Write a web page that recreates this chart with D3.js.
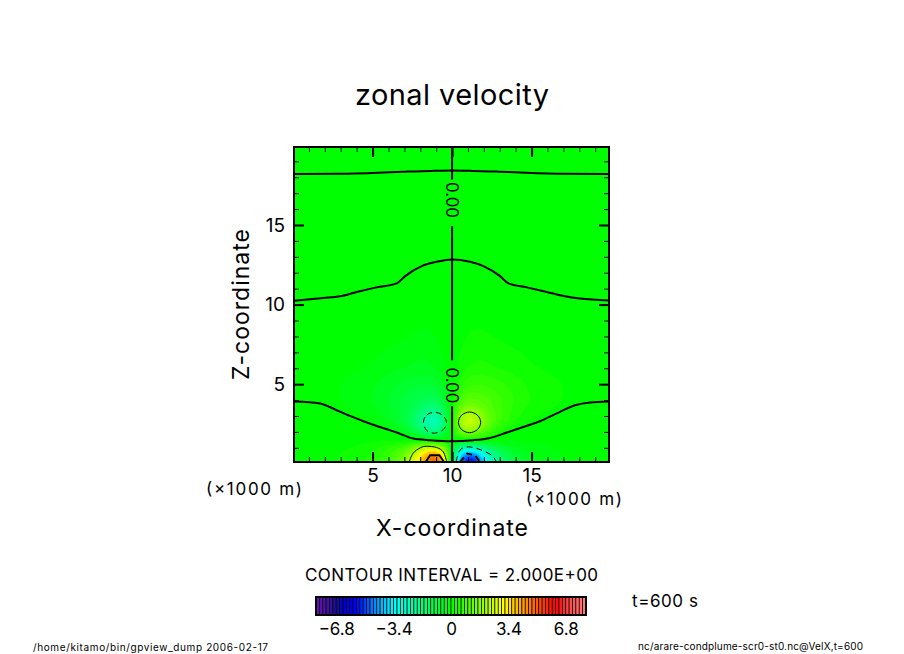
<!DOCTYPE html>
<html lang="en">

<head>
    <meta charset="UTF-8">
    <title>zonal velocity</title>
    <script src="https://d3js.org/d3.v7.min.js"></script>
    <style>
        body {
            margin: 0;
            background: #fff;
        }

        text {
            font-family: "Inter", "DejaVu Sans", sans-serif;
            font-weight: 400;
            fill: #000;
        }

        .tick text {
            font-family: "Inter", "DejaVu Sans", sans-serif;
        }

        .domain {
            display: none;
        }
    </style>
</head>

<body>
    <script>
        // grid of the field, x and z in units of 1000 m
        const gridX = [0, 3, 5, 6, 7, 7.5, 8, 8.5, 9, 9.5, 10, 10.5, 11, 11.5, 12, 12.5, 13, 14, 15, 17, 20];
        const gridZ = [0, 0.3, 0.6, 1, 1.4, 1.8, 2.2, 2.6, 3, 3.5, 4, 5, 6, 8, 12, 20];

        const uZ00 = [.05, .2, .45, .8, 1.7, 2.6, 3.7, 4.8, 5.7, 4.1, 0, -4.4, -6.1, -6, -4.2, -2.9, -2, -.9, -.45, -.2, -.05];
        const uZ03 = [.05, .2, .45, .75, 1.5, 2.3, 3.4, 4.6, 5.3, 3.7, 0, -3.9, -5.5, -5.4, -3.8, -2.6, -1.8, -.8, -.45, -.2, -.05];
        const uZ06 = [.05, .2, .4, .7, 1.2, 1.9, 2.9, 4, 4.5, 3.1, 0, -3.3, -4.4, -4.3, -3.1, -2.2, -1.4, -.65, -.4, -.2, -.05];
        const uZ10 = [.03, .15, .3, .5, .85, 1.3, 1.9, 2.2, 2.2, 1.7, 0, -1.8, -2.2, -2.1, -1.7, -1.2, -.8, -.4, -.3, -.15, -.03];
        const uZ14 = [.02, .08, .15, .2, .15, .05, -.05, 0, 0, 0, 0, 0, 0, 0, .05, -.05, -.15, -.2, -.15, -.08, -.02];
        const uZ18 = [.02, .05, .08, -.05, -.3, -.6, -.95, -1.35, -1.5, -1.1, 0, 1.1, 1.5, 1.4, .95, .6, .3, .05, -.08, -.05, -.02];
        const uZ22 = [.02, .03, -.05, -.2, -.6, -1, -1.5, -2.2, -2.4, -1.7, 0, 1.7, 2.3, 2.2, 1.5, 1, .6, .2, .05, -.03, -.02];
        const uZ26 = [.01, -.04, -.18, -.42, -.85, -1.3, -1.9, -2.5, -2.75, -1.9, 0, 1.95, 2.7, 2.5, 1.9, 1.3, .85, .42, .18, .04, -.01];
        const uZ30 = [.01, -.08, -.25, -.5, -.9, -1.2, -1.7, -2.2, -2.4, -1.7, 0, 1.7, 2.4, 2.2, 1.7, 1.2, .9, .5, .25, .08, -.01];
        const uZ35 = [0, -.15, -.35, -.55, -.85, -1.05, -1.3, -1.6, -1.7, -1.25, 0, 1.25, 1.7, 1.6, 1.3, 1.05, .85, .55, .35, .15, 0];
        const uZ40 = [-.02, -.2, -.4, -.6, -.85, -1, -1.1, -1.2, -1.2, -.85, 0, .85, 1.2, 1.2, 1.1, 1, .85, .6, .4, .2, .02];
        const uZ50 = [-.03, -.2, -.35, -.5, -.65, -.72, -.75, -.75, -.7, -.45, 0, .45, .7, .75, .75, .72, .65, .5, .35, .2, .03];
        const uZ60 = [-.03, -.12, -.22, -.3, -.38, -.42, -.45, -.45, -.38, -.25, 0, .25, .38, .45, .45, .42, .38, .3, .22, .12, .03];
        const uZ80 = [-.01, -.05, -.1, -.13, -.17, -.2, -.22, -.23, -.2, -.12, 0, .12, .2, .23, .22, .2, .17, .13, .1, .05, .01];
        const uZ120 = [0, 0, 0, 0, 0, 0, 0, 0, 0, 0, 0, 0, 0, 0, 0, 0, 0, 0, 0, 0, 0];
        const uZ200 = [0, 0, 0, 0, 0, 0, 0, 0, 0, 0, 0, 0, 0, 0, 0, 0, 0, 0, 0, 0, 0];
        const fieldRows = [uZ00, uZ03, uZ06, uZ10, uZ14, uZ18, uZ22, uZ26, uZ30, uZ35, uZ40, uZ50, uZ60, uZ80, uZ120, uZ200];

        // contour lines, [x, z]
        const zeroTop = [[0.06, 18.2], [3, 18.22], [6.5, 18.33], [8.7, 18.4], [10, 18.42], [11.3, 18.4], [13.5, 18.33], [17, 18.22], [19.87, 18.2]];
        const zeroMiddle = [[0.06, 10.24], [1.07, 10.33], [1.9, 10.41], [2.96, 10.52], [4, 10.79], [5.26, 11.08], [6.52, 11.33], [7.05, 11.79], [8.09, 12.42], [9.03, 12.69], [10, 12.84], [11.13, 12.69], [11.97, 12.42], [13.02, 11.79], [13.55, 11.33], [14.7, 11.08], [15.96, 10.79], [17.1, 10.52], [18.05, 10.38], [19.87, 10.26]];
        const zeroLower = [[0.06, 3.91], [1.7, 3.79], [2.64, 3.41], [3.48, 3.05], [4.42, 2.67], [5.47, 2.31], [6.52, 1.96], [7.57, 1.58], [8.62, 1.48], [10, 1.42], [11.34, 1.48], [12.39, 1.62], [13.44, 1.96], [14.48, 2.31], [15.53, 2.67], [16.58, 3.16], [17.74, 3.68], [18.68, 3.85], [19.87, 3.91]];
        const zeroCentre = [[[10, 19.9], [10, 17.85]], [[10, 14.94], [10, 6.5]], [[10, 3.62], [10, 0.11]]];
        const plusTwoRing = [[10.4, 2.6], [10.6, 3.05], [11.1, 3.25], [11.6, 3.05], [11.8, 2.6], [11.6, 2.15], [11.1, 1.95], [10.6, 2.15]];
        const minusTwoRing = [[8.2, 2.6], [8.4, 3.05], [8.9, 3.24], [9.4, 3.05], [9.65, 2.6], [9.45, 2.15], [8.9, 1.92], [8.4, 2.1]];
        const plusTwoArc = [[7.3, 0.11], [7.55, 0.66], [8, 1], [8.4, 1.1], [9.03, 1.02], [9.45, 0.74], [9.67, 0.11]];
        const plusFourArc = [[8.34, 0.11], [8.62, 0.54], [9.2, 0.54], [9.5, 0.11]];
        const minusTwoArc = [[10.25, 0.11], [10.5, 0.85], [11.03, 1.06], [11.76, 0.89], [12.5, 0.53], [12.7, 0.26], [12.8, 0.11]];
        const minusFourArc = [[10.5, 0.11], [10.96, 0.64], [11.45, 0.53], [11.76, 0.11]];

        // colour table
        const colourStops = [-8, -7.2, -6.8, -6.4, -5.6, -4.6, -3.4, -1.7, 0, 1.6, 3.1, 4.6, 6.2, 6.9, 8];
        const colourValues = ["#6a10b8", "#3c10a0", "#141090", "#0000d0", "#0000ff", "#0080ff", "#00ffff", "#00ff80", "#00ff00", "#80ff00", "#ffff00", "#ff8000", "#ff0000", "#ff4040", "#ff8080"];

        const majorTicks = [5, 10, 15];
        const minorTicks = [1, 2, 3, 4, 6, 7, 8, 9, 11, 12, 13, 14, 16, 17, 18, 19];
        const barTicks = [-6.8, -3.4, 0, 3.4, 6.8];
        const zeroLabels = [[10, 17.7, "0.00"], [10, 6.05, "0.00"]];

        const width = 904, height = 654;
        const plotLeft = 294, plotRight = 609, plotTop = 147, plotBottom = 462;

        const svg = d3.select("body").append("svg")
            .attr("width", width)
            .attr("height", height)
            .style("display", "block");

        const x = d3.scaleLinear().domain([0.06, 19.87]).range([plotLeft, plotRight]);
        const y = d3.scaleLinear().domain([0.11, 19.9]).range([plotBottom, plotTop]);
        const colour = d3.scaleLinear().domain(colourStops).range(colourValues).clamp(true);

        // band colour, the two bands next to zero are both plain green
        function bandColour(t) {
            return colour(t >= -0.001 ? t : t + 0.2);
        }

        // look up the field between the grid lines
        function fieldAt(px, pz) {
            const i = Math.min(d3.bisectRight(gridX, px) - 1, gridX.length - 2);
            const j = Math.min(d3.bisectRight(gridZ, pz) - 1, gridZ.length - 2);
            const a = (px - gridX[i]) / (gridX[i + 1] - gridX[i]);
            const b = (pz - gridZ[j]) / (gridZ[j + 1] - gridZ[j]);
            return (1 - b) * ((1 - a) * fieldRows[j][i] + a * fieldRows[j][i + 1])
                + b * ((1 - a) * fieldRows[j + 1][i] + a * fieldRows[j + 1][i + 1]);
        }

        const nx = Math.ceil((plotRight - plotLeft) / 2), ny = Math.ceil((plotBottom - plotTop) / 2);
        const sampled = { data: new Float64Array(nx * ny), width: nx, height: ny };
        for (let j = 0; j < ny; j++) {
            for (let i = 0; i < nx; i++) {
                sampled.data[j * nx + i] = fieldAt(x.invert(plotLeft + (i + 0.5) * 2), y.invert(plotTop + (j + 0.5) * 2));
            }
        }
        if (d3.blur2) d3.blur2(sampled, 1);

        const bands = d3.range(-40, 40).map(d => d * 0.2);

        svg.append("rect")
            .attr("x", plotLeft).attr("y", plotTop)
            .attr("width", plotRight - plotLeft).attr("height", plotBottom - plotTop)
            .attr("fill", colour(0));

        svg.append("clipPath").attr("id", "plot").append("rect")
            .attr("x", plotLeft).attr("y", plotTop)
            .attr("width", plotRight - plotLeft).attr("height", plotBottom - plotTop);

        const contours = d3.contours()
            .size([nx, ny])
            .thresholds(bands)(Array.from(sampled.data));

        svg.append("g")
            .attr("clip-path", "url(#plot)")
            .append("g")
            .attr("transform", `translate(${plotLeft - 1},${plotTop - 1}) scale(2)`)
            .selectAll("path")
            .data(contours.filter(d => d.coordinates.length && d.value > -6.5))
            .join("path")
            .attr("d", d3.geoPath())
            .attr("fill", d => bandColour(d.value));

        // contour lines
        const lineOpen = d3.line().x(d => x(d[0])).y(d => y(d[1]));
        const lineSmooth = d3.line().x(d => x(d[0])).y(d => y(d[1])).curve(d3.curveMonotoneX);
        const lineRing = d3.line().x(d => x(d[0])).y(d => y(d[1])).curve(d3.curveCardinalClosed);
        const lineArc = d3.line().x(d => x(d[0])).y(d => y(d[1])).curve(d3.curveCardinal);
        const lines = svg.append("g").attr("clip-path", "url(#plot)").attr("fill", "none").attr("stroke", "#000");

        [zeroTop, zeroMiddle, zeroLower].forEach(d => {
            lines.append("path").attr("d", lineSmooth(d)).attr("stroke-width", 2);
        });
        zeroCentre.forEach(d => {
            lines.append("path").attr("d", lineOpen(d)).attr("stroke-width", 2);
        });
        lines.append("path").attr("d", lineRing(plusTwoRing)).attr("stroke-width", 1);
        lines.append("path").attr("d", lineRing(minusTwoRing)).attr("stroke-width", 1).attr("stroke-dasharray", "6 4");
        lines.append("path").attr("d", lineArc(plusTwoArc)).attr("stroke-width", 1);
        lines.append("path").attr("d", lineOpen(plusFourArc)).attr("stroke-width", 2);
        lines.append("path").attr("d", lineArc(minusTwoArc)).attr("stroke-width", 1).attr("stroke-dasharray", "6 4");
        lines.append("path").attr("d", lineOpen(minusFourArc)).attr("stroke-width", 2).attr("stroke-dasharray", "6 4");

        svg.append("g").selectAll("text")
            .data(zeroLabels)
            .join("text")
            .attr("transform", d => `translate(${x(d[0]) - 6},${y(d[1])}) rotate(90)`)
            .attr("font-size", 17)
            .attr("font-weight", 600)
            .attr("textLength", 36)
            .text(d => d[2]);

        // frame with ticks on all four sides
        function ticks(axis, at, values, size, labelled) {
            const g = svg.append("g").attr("transform", at).call(
                axis.tickValues(values).tickSize(size).tickFormat(labelled ? d3.format("d") : "")
            );
            g.selectAll(".tick line").attr("stroke", "#000").attr("stroke-width", size === -10 ? 2 : 1);
            g.selectAll(".tick text").attr("font-size", 19).attr("fill", "#000");
            return g;
        }

        ticks(d3.axisBottom(x), `translate(0,${plotBottom})`, minorTicks, -5, false);
        ticks(d3.axisTop(x), `translate(0,${plotTop})`, minorTicks, -5, false);
        ticks(d3.axisLeft(y), `translate(${plotLeft},0)`, minorTicks, -5, false);
        ticks(d3.axisRight(y), `translate(${plotRight},0)`, minorTicks, -5, false);
        ticks(d3.axisTop(x), `translate(0,${plotTop})`, majorTicks, -10, false);
        ticks(d3.axisRight(y), `translate(${plotRight},0)`, majorTicks, -10, false);

        const xMajor = ticks(d3.axisBottom(x), `translate(0,${plotBottom})`, majorTicks, -10, true);
        xMajor.selectAll(".tick text").attr("y", 7);
        const yMajor = ticks(d3.axisLeft(y), `translate(${plotLeft},0)`, majorTicks, -10, true);
        yMajor.selectAll(".tick text").attr("x", -9);

        svg.append("rect")
            .attr("x", plotLeft).attr("y", plotTop)
            .attr("width", plotRight - plotLeft).attr("height", plotBottom - plotTop)
            .attr("fill", "none").attr("stroke", "#000").attr("stroke-width", 2);

        // texts
        function label(s, px, py, size, length, rotate) {
            svg.append("text")
                .attr("transform", `translate(${px},${py})` + (rotate ? ` rotate(${rotate})` : ""))
                .attr("font-size", size)
                .attr("textLength", length)
                .text(s);
        }

        label("zonal velocity", 355, 105, 29, 194);
        label("(×1000 m)", 206, 495, 17, 96);
        label("(×1000 m)", 526, 505, 17, 96);
        label("X-coordinate", 376, 536, 23, 152);
        label("Z-coordinate", 249, 380, 23, 151, -90);
        label("CONTOUR INTERVAL = 2.000E+00", 305, 581, 17, 293);
        label("t=600 s", 632, 607, 17, 66);
        label("/home/kitamo/bin/gpview_dump  2006-02-17", 33, 651, 10, 235);
        label("nc/arare-condplume-scr0-st0.nc@VelX,t=600", 638, 650, 10, 225);

        // colour bar
        const barY = 597, barH = 18;
        const barX = d3.scaleLinear().domain([-8, 8]).range([316, 586]);

        svg.append("g").selectAll("rect")
            .data(bands)
            .join("rect")
            .attr("x", d => barX(d))
            .attr("y", barY)
            .attr("width", barX(0.2) - barX(0))
            .attr("height", barH)
            .attr("fill", d => colour(d + 0.1))
            .attr("stroke", "#000")
            .attr("stroke-width", 0.7);

        svg.append("rect")
            .attr("x", 316).attr("y", barY)
            .attr("width", 270).attr("height", barH)
            .attr("fill", "none").attr("stroke", "#000").attr("stroke-width", 2);

        const barAxis = svg.append("g")
            .attr("transform", `translate(0,${barY + barH})`)
            .call(d3.axisBottom(barX).tickValues(barTicks).tickSize(0).tickFormat(d => d === 0 ? "0" : d3.format(".1f")(d)));
        barAxis.selectAll(".tick text").attr("font-size", 17).attr("fill", "#000").attr("y", 8).attr("font-weight", 500);
    </script>
</body>

</html>
